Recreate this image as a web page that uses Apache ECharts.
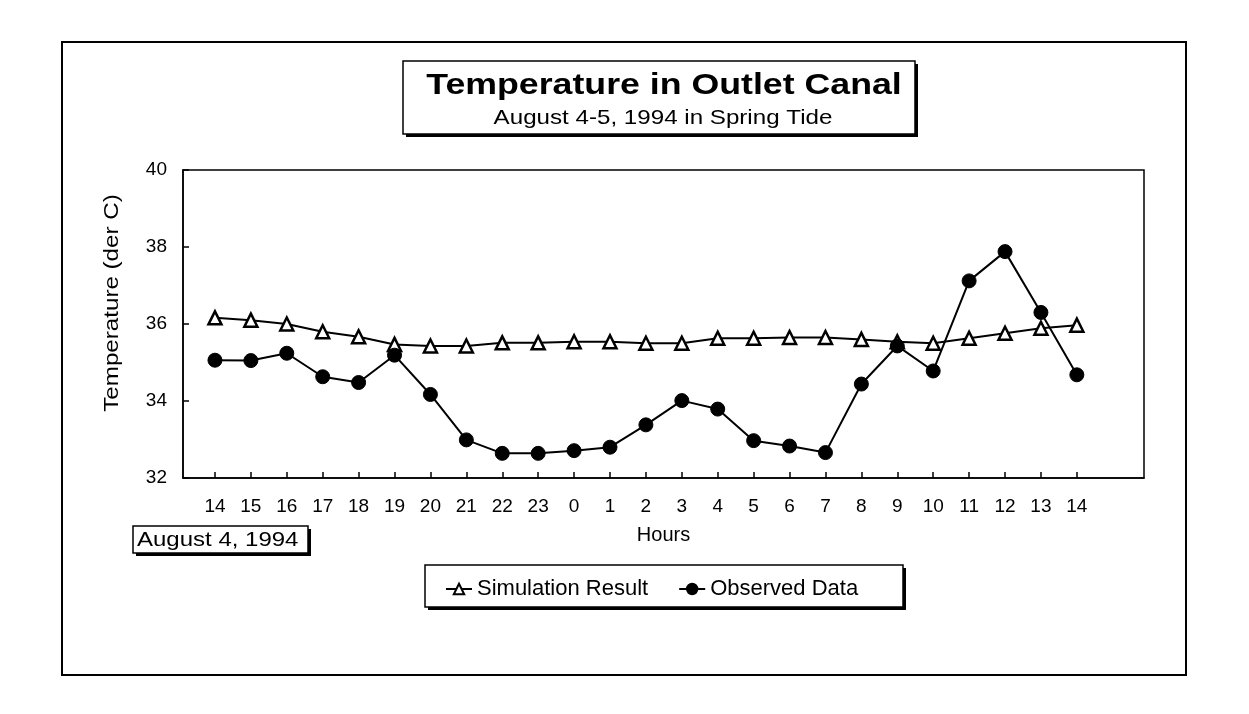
<!DOCTYPE html>
<html>
<head>
<meta charset="utf-8">
<script src="https://cdn.jsdelivr.net/npm/echarts@6/dist/echarts.min.js"></script>
<style>
html,body{margin:0;padding:0;background:#fff;}
#chart{width:1249px;height:714px;}
</style>
</head>
<body>
<div id="chart"></div>
<script>
// Hour labels (Aug 4 14:00 to Aug 5 14:00)
const hours = ['14','15','16','17','18','19','20','21','22','23','0','1','2','3','4','5','6','7','8','9','10','11','12','13','14'];
// Simulation Result (deg C)
const simulation = [36.16,36.10,36.00,35.80,35.67,35.47,35.43,35.43,35.51,35.51,35.54,35.54,35.50,35.50,35.63,35.63,35.65,35.65,35.60,35.54,35.50,35.63,35.76,35.89,35.97];
// Observed Data (deg C)
const observed = [35.06,35.05,35.24,34.63,34.48,35.19,34.17,32.99,32.64,32.64,32.71,32.80,33.38,34.01,33.79,32.97,32.83,32.66,34.44,35.43,34.78,37.12,37.88,36.30,34.68];
const yTicks = [32,34,36,38,40];

const FONT = '"Liberation Sans", Arial, sans-serif';
const chart = echarts.init(document.getElementById('chart'));

function boxWithShadow(x, y, w, h, sh) {
  return [
    {type:'rect', shape:{x:x+sh, y:y+sh, width:w, height:h}, style:{fill:'#000'}, z:1},
    {type:'rect', shape:{x:x, y:y, width:w, height:h}, style:{fill:'#fff', stroke:'#000', lineWidth:1.5}, z:2}
  ];
}
function label(text, x, y, font, sx, rot, align) {
  return {type:'text', x:x, y:y, scaleX:sx || 1, rotation:rot || 0, z:5,
    style:{text:text, font:font, fill:'#000', align:align||'center', verticalAlign:'middle',
      textAlign:align||'center', textVerticalAlign:'middle'}};
}

const option = {
  backgroundColor:'#fff',
  animation:false,
  grid:{left:183, top:170, right:105, bottom:236, show:true, borderColor:'#000', borderWidth:1.5, backgroundColor:'transparent'},
  xAxis:{
    type:'value', min:-0.89, max:25.87,
    name:'Hours', nameLocation:'middle', nameGap:47,
    nameTextStyle:{fontFamily:FONT, fontSize:20, color:'#000'},
    axisLine:{show:true, onZero:false, lineStyle:{color:'#000', width:1.5}},
    axisTick:{show:true, inside:true, length:6, lineStyle:{color:'#000', width:1.5}, customValues: hours.map((h,i)=>i)},
    axisLabel:{show:true, margin:19, fontFamily:FONT, fontSize:19, color:'#000',
      customValues: hours.map((h,i)=>i), formatter:(v)=>hours[Math.round(v)]},
    splitLine:{show:false}
  },
  yAxis:{
    type:'value', min:32, max:40, interval:2,
    axisLine:{show:true, onZero:false, lineStyle:{color:'#000', width:1.5}},
    axisTick:{show:true, inside:true, length:6, lineStyle:{color:'#000', width:1.5}},
    axisLabel:{margin:16, fontFamily:FONT, fontSize:19, color:'#000', formatter:(v)=>yTicks.includes(v)?String(v):''},
    splitLine:{show:false}
  },
  legend:{
    left:440, top:573, itemWidth:26, itemHeight:13, itemGap:30,
    textStyle:{fontFamily:FONT, fontSize:22, color:'#000'},
    data:['Simulation Result','Observed Data'], z:10
  },
  series:[
    {name:'Simulation Result', type:'line', data: hours.map((h,i)=>[i, simulation[i]]),
      symbol:'triangle', symbolSize:13, lineStyle:{color:'#000', width:2},
      itemStyle:{color:'#fff', borderColor:'#000', borderWidth:2.5}, z:3},
    {name:'Observed Data', type:'line', data: hours.map((h,i)=>[i, observed[i]]),
      symbol:'circle', symbolSize:14, lineStyle:{color:'#000', width:2},
      itemStyle:{color:'#000', borderColor:'#000', borderWidth:1}, z:4}
  ],
  graphic:[
    {type:'rect', shape:{x:62, y:42, width:1124, height:633}, style:{fill:'none', stroke:'#000', lineWidth:2}, z:0},
    ...boxWithShadow(403, 61, 512, 73, 3),
    label('Temperature in Outlet Canal', 664, 86, 'bold 30px ' + FONT, 1.19),
    label('August 4-5, 1994 in Spring Tide', 663, 118, '21px ' + FONT, 1.15),
    label('Temperature (der C)', 112, 303, '21px ' + FONT, 1.15, Math.PI/2),
    ...boxWithShadow(133, 526, 175, 27, 3),
    label('August 4, 1994', 137, 540, '20px ' + FONT, 1.2, 0, 'left'),
    ...boxWithShadow(425, 565, 478, 42, 3)
  ]
};
chart.setOption(option);
</script>
</body>
</html>
